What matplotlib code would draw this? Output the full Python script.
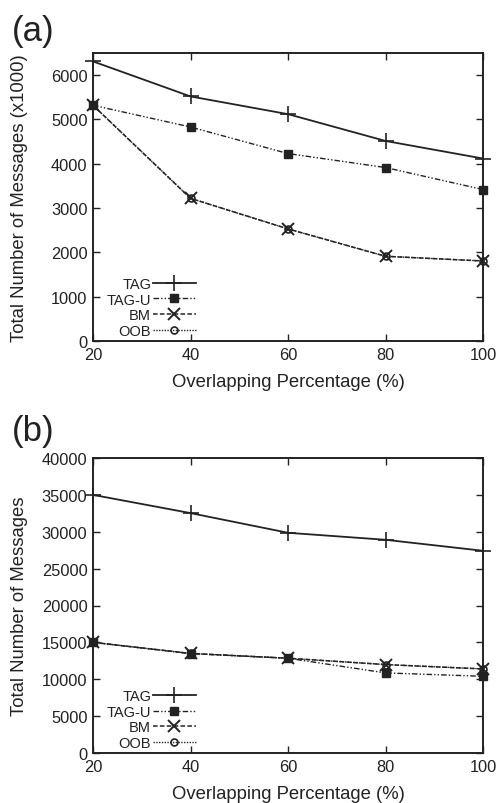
import matplotlib.pyplot as plt

plt.rcParams['font.family'] = ['Liberation Sans', 'DejaVu Sans']

x = [20, 40, 60, 80, 100]

# panel (a): thousands of messages
tag_a = [6310, 5520, 5120, 4515, 4118]
tagu_a = [5320, 4830, 4230, 3915, 3418]
bm_a = [5320, 3220, 2530, 1912, 1806]
oob_a = [5320, 3220, 2530, 1912, 1806]

# panel (b): messages
tag_b = [35000, 32530, 29860, 28910, 27420]
tagu_b = [15000, 13480, 12850, 10860, 10400]
bm_b = [15000, 13500, 12850, 11990, 11400]
oob_b = [15000, 13500, 12850, 11990, 11400]

names = ['TAG', 'TAG-U', 'BM', 'OOB']
ink = '#222222'
styles = [
    dict(ls='-', marker='+', ms=12, mew=1.2, lw=1.3),
    dict(ls=(0, (4, 1.5, 1, 1.5, 1, 1.5)), marker='s', ms=6, lw=1.0),
    dict(ls=(0, (3, 1.5)), marker='x', ms=8, mew=1.4, lw=1.1),
    dict(ls=(0, (1, 1)), marker='o', ms=5, mfc='none', mew=1.2, lw=1.0),
]

fig = plt.figure(figsize=(4.97, 8.04), dpi=100)
W, H = 497.0, 804.0
ax_a = fig.add_axes([93 / W, 1 - 342 / H, 390 / W, 288 / H])
ax_b = fig.add_axes([93 / W, 1 - 754 / H, 390 / W, 295 / H])

panels = [
    (ax_a, [tag_a, tagu_a, bm_a, oob_a], 6500, 1000, 'Total Number of Messages (x1000)'),
    (ax_b, [tag_b, tagu_b, bm_b, oob_b], 40000, 5000, 'Total Number of Messages'),
]

for ax, series, ytop, ystep, ylab in panels:
    for name, y, st in zip(names, series, styles):
        ax.plot(x, y, color=ink, label=name, clip_on=False, **st)
    ax.set_xlim(20, 100)
    ax.set_ylim(0, ytop)
    ax.set_xticks(x)
    ax.set_yticks(range(0, ytop + 1, ystep))
    ax.tick_params(direction='in', length=5, width=1, labelsize=11.8,
                   top=True, right=True, pad=4, colors=ink)
    for s in ax.spines.values():
        s.set_linewidth(1.4)
        s.set_color(ink)
    ax.set_xlabel('Overlapping Percentage (%)', fontsize=13.3, color=ink, labelpad=8)
    ax.set_ylabel(ylab, fontsize=13.3, color=ink)
    ax.yaxis.set_label_coords(-0.167, 0.5)
    leg = ax.legend(loc='lower left', bbox_to_anchor=(0.02, -0.01), frameon=False,
                    markerfirst=False, fontsize=10.5, handlelength=3.0,
                    handletextpad=0.1, labelspacing=0.12, borderaxespad=0.0)
    for t in leg.get_texts():
        t.set_ha('right')
        t.set_color(ink)

fig.text(12 / W, 1 - 15 / H, '(a)', fontsize=25, va='top', color=ink)
fig.text(12 / W, 1 - 415 / H, '(b)', fontsize=25, va='top', color=ink)

fig.savefig('out.png', dpi=100)
plt.close()
